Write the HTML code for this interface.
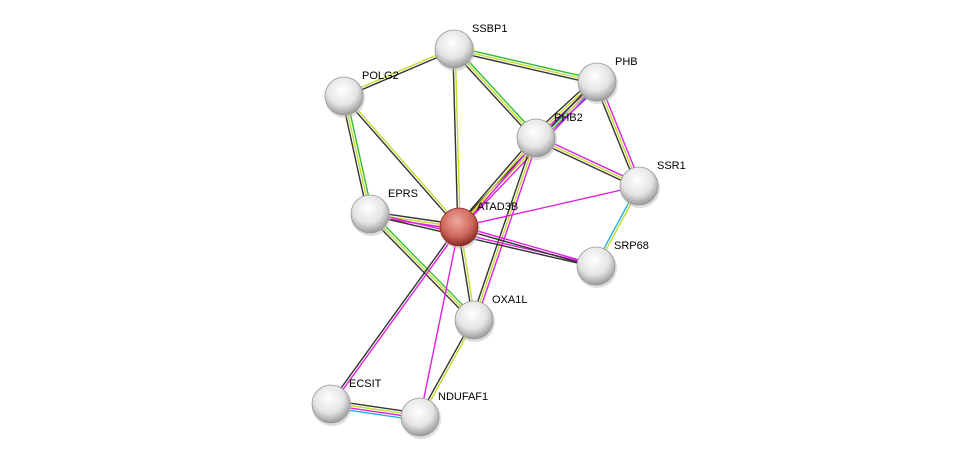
<!DOCTYPE html>
<html><head><meta charset="utf-8"><style>
html,body{margin:0;padding:0;background:#fff;}
svg{display:block;}
text{font-family:"Liberation Sans",sans-serif;font-size:11px;fill:#000;}
</style></head><body>
<svg id="s" width="976" height="463" viewBox="0 0 976 463" xmlns="http://www.w3.org/2000/svg">
<defs>
<radialGradient id="gg" cx="45%" cy="35%" r="65%">
<stop offset="0" stop-color="#ffffff"/><stop offset="0.6" stop-color="#e4e4e4"/><stop offset="1" stop-color="#9a9a9a"/></radialGradient>
<radialGradient id="rg" cx="45%" cy="35%" r="65%">
<stop offset="0" stop-color="#f0a8a0"/><stop offset="0.6" stop-color="#d06a5e"/><stop offset="1" stop-color="#8a2a22"/></radialGradient>
</defs>
<g id="edges"></g>
<g id="nodes"></g>
</svg>
<script>
var N={SSBP1:[454,49],PHB:[597,82],POLG2:[344,96],PHB2:[536,138],SSR1:[639,186],EPRS:[370,214],ATAD3B:[459,227],SRP68:[596,266],OXA1L:[474,320],ECSIT:[331,404],NDUFAF1:[420,417]};
var C={g:"#30c030",y:"#c4dc2c",k:"#333333",m:"#e020e0",b:"#2030ff",c:"#20b0e0"};
var E=[["SSBP1","POLG2","ky"],["SSBP1","PHB","gyk"],["SSBP1","PHB2","gyk"],["SSBP1","ATAD3B","yk"],
["POLG2","EPRS","gyk"],["POLG2","ATAD3B","yk"],["PHB","PHB2","bcmyk"],["PHB","SSR1","myk"],["PHB","ATAD3B","myk"],
["PHB2","SSR1","myk"],["PHB2","ATAD3B","myk"],["PHB2","OXA1L","myk"],["SSR1","ATAD3B","m"],["SSR1","SRP68","yc"],
["EPRS","ATAD3B","kym"],["EPRS","SRP68","mk"],["ATAD3B","SRP68","mk"],["EPRS","OXA1L","gyk"],["ATAD3B","OXA1L","yk"],
["ATAD3B","ECSIT","mk"],["ATAD3B","NDUFAF1","m"],["OXA1L","NDUFAF1","yk"],["ECSIT","NDUFAF1","kymc"]];
var ns="http://www.w3.org/2000/svg",eg=document.getElementById("edges"),ng=document.getElementById("nodes");
E.forEach(function(e){var a=N[e[0]],b=N[e[1]],dx=b[0]-a[0],dy=b[1]-a[1],L=Math.hypot(dx,dy),px=-dy/L,py=dx/L,n=e[2].length;
for(var i=0;i<n;i++){var o=(i-(n-1)/2)*2.4;var l=document.createElementNS(ns,"line");
l.setAttribute("x1",a[0]+px*o);l.setAttribute("y1",a[1]+py*o);l.setAttribute("x2",b[0]+px*o);l.setAttribute("y2",b[1]+py*o);
l.setAttribute("stroke",C[e[2][i]]);l.setAttribute("stroke-width","1.4");eg.appendChild(l);}});
for(var k in N){var p=N[k];var s=document.createElementNS(ns,"circle");s.setAttribute("cx",p[0]+1);s.setAttribute("cy",p[1]+2);s.setAttribute("r",20);s.setAttribute("fill","#bbb");s.setAttribute("opacity","0.5");ng.appendChild(s);
var c=document.createElementNS(ns,"circle");c.setAttribute("cx",p[0]);c.setAttribute("cy",p[1]);c.setAttribute("r",19);c.setAttribute("fill",k=="ATAD3B"?"url(#rg)":"url(#gg)");c.setAttribute("stroke",k=="ATAD3B"?"#8a2a22":"#9a9a9a");c.setAttribute("stroke-width","0.8");ng.appendChild(c);
var t=document.createElementNS(ns,"text");t.setAttribute("x",p[0]+18);t.setAttribute("y",p[1]-17);t.textContent=k;ng.appendChild(t);}
</script>
</body></html>
